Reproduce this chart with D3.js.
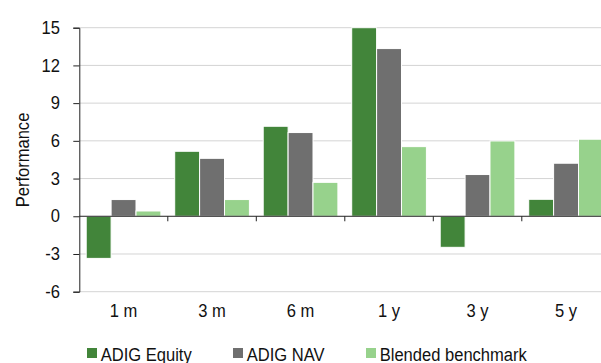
<!DOCTYPE html>
<html><head><meta charset="utf-8">
<script src="https://cdn.jsdelivr.net/npm/d3@7"></script>
<style>body{margin:0;background:#fff;overflow:hidden}svg{display:block;font-family:"Liberation Sans",Arial,sans-serif}</style>
</head><body><svg id="c" width="601" height="363"></svg>
<script>
const categories = ["1 m","3 m","6 m","1 y","3 y","5 y"];
const seriesNames = ["ADIG Equity","ADIG NAV","Blended benchmark"];
const adigEquity = [-3.35, 5.17, 7.16, 15.0, -2.47, 1.35];
const adigNav = [1.33, 4.61, 6.66, 13.34, 3.32, 4.22];
const blended = [0.42, 1.33, 2.70, 5.54, 5.99, 6.13];
const yTicks = [-6,-3,0,3,6,9,12,15];
const colors = ["#42853a","#6f6f6f","#97d28c"];

(function(){
const svg = d3.select("#c");
const pL = 79.3, pR = 610.3, pT = 27.7, pB = 291.7;
const FS = 17.6, SX = 0.94;
const y = d3.scaleLinear().domain([-6,15]).range([pB, pT]);
const x0 = d3.scaleBand().domain(categories).range([pL, pR]).paddingInner(0.156).paddingOuter(0.078);
const x1 = d3.scaleBand().domain(seriesNames).range([0, x0.bandwidth()]);
const data = [adigEquity, adigNav, blended];

function label(parent, x, yy, txt, anchor, rot) {
  const gg = parent.append("g").attr("transform", `translate(${x},${yy})` + (rot ? ` rotate(${rot})` : "") + ` scale(${SX},1)`);
  return gg.append("text").attr("text-anchor", anchor).attr("font-size", FS).attr("fill", "#111").text(txt);
}

svg.append("g").selectAll("line").data(yTicks.filter(d => d !== 0)).join("line")
  .attr("x1", pL).attr("x2", pR)
  .attr("y1", d => y(d)).attr("y2", d => y(d))
  .attr("stroke", "#d4d4d4").attr("stroke-width", 1);

const g = svg.append("g");
categories.forEach((c, i) => {
  seriesNames.forEach((s, j) => {
    const v = data[j][i];
    g.append("rect")
      .attr("x", x0(c) + x1(s))
      .attr("width", x1.bandwidth())
      .attr("y", y(Math.max(0, v)))
      .attr("height", Math.abs(y(v) - y(0)))
      .attr("fill", colors[j])
      .attr("stroke", "#fff").attr("stroke-width", 1);
  });
});

svg.append("line").attr("x1", pL).attr("x2", pR).attr("y1", y(0)).attr("y2", y(0))
  .attr("stroke", "#222").attr("stroke-width", 1);
const bounds = categories.map((c, i) => pL + x0.step() * (i + 1));
svg.append("g").selectAll("line").data(bounds).join("line")
  .attr("x1", d => d).attr("x2", d => d).attr("y1", y(0)).attr("y2", y(0) + 5)
  .attr("stroke", "#222");

const yAxis = d3.axisLeft(y).tickValues(yTicks).tickSize(6).tickFormat(() => "");
const ya = svg.append("g").attr("transform", `translate(${pL},0)`).call(yAxis);
ya.select(".domain").attr("stroke", "#222");
ya.selectAll(".tick line").attr("stroke", "#222");
yTicks.forEach(t => label(svg, 60, y(t) + 6.2, String(t), "end"));

categories.forEach(c => label(svg, x0(c) + x0.bandwidth() / 2, 316.5, c, "middle"));

label(svg, 29, 160, "Performance", "middle", -90);

const legX = [87, 233, 366];
seriesNames.forEach((s, i) => {
  svg.append("rect").attr("x", legX[i]).attr("y", 348).attr("width", 10).attr("height", 10).attr("fill", colors[i]);
  label(svg, legX[i] + 13.7, 360.5, s, "start");
});
})();
</script></body></html>
